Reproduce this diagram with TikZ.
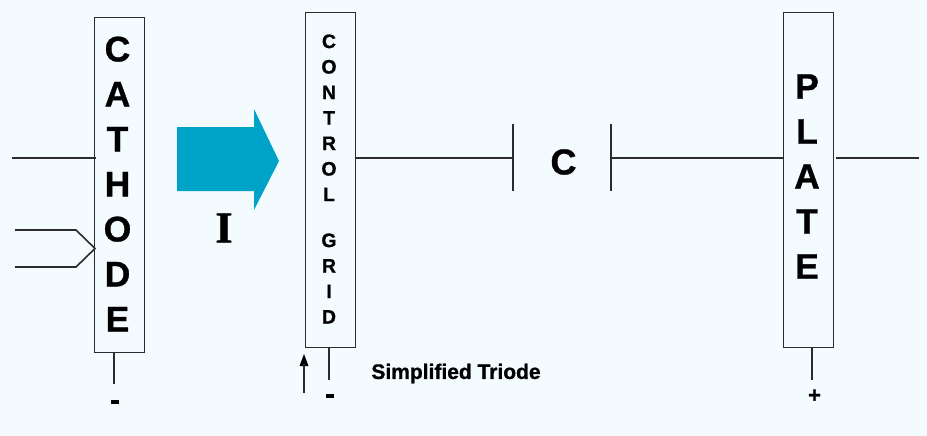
\documentclass[tikz,border=0pt]{standalone}
\usepackage{fontspec}
\setmainfont{Liberation Sans}[BoldFeatures={FakeBold=0.9}]
\newfontfamily\serifbold{Liberation Serif}[BoldFeatures={FakeBold=0.8}]
\definecolor{bgc}{HTML}{F3FBFF}
\definecolor{flow}{HTML}{00A3C8}
\definecolor{ink}{HTML}{2B2B2B}
\tikzset{
  tube/.style={draw=ink,line width=1pt,fill=none,minimum width=50pt,inner sep=0pt,outer sep=0pt},
  wire/.style={draw=ink,line width=1.3pt},
  stackbig/.style={align=center,inner sep=0pt,font=\fontsize{35.5}{45}\selectfont\bfseries},
  stacksmall/.style={align=center,inner sep=0pt,font=\fontsize{19.5}{25.5}\selectfont\bfseries},
  lab/.style={inner sep=0pt,font=\bfseries}
}
\begin{document}
\begin{tikzpicture}[x=1pt,y=-1pt]
\useasboundingbox (0,0) rectangle (927,436);
\fill[bgc] (0,0) rectangle (927,436);
% tubes
\node[tube,minimum height=334pt] (cath) at (119,185) {};
\node[tube,minimum height=334pt] (grid) at (330.5,180) {};
\node[tube,minimum height=334pt] (plate) at (808,180) {};
% stacked names
\node[stackbig] (cathtxt) at (117.5,184) {C\\A\\T\\H\\O\\D\\E};
\node[stacksmall] (gridtxt) at (329,179) {C\\O\\N\\T\\R\\O\\L\\[-5pt] \\G\\R\\I\\D};
\node[stackbig] (platetxt) at (807,176.5) {P\\L\\A\\T\\E};
% current arrow
\fill[flow] (177,127) -- (254,127) -- (254,109) -- (279,161) -- (254,210) -- (254,191) -- (177,191) -- cycle;
\node[inner sep=0pt,font=\fontsize{44}{44}\selectfont\serifbold\bfseries] (cur) at (224,228) {I};
% capacitor
\coordinate (capLt) at (513,124); \coordinate (capLb) at (513,191);
\coordinate (capRt) at (611,124); \coordinate (capRb) at (611,191);
\coordinate (capL) at (513,158); \coordinate (capR) at (611,158);
\draw[wire] (capLt) -- (capLb);
\draw[wire] (capRt) -- (capRb);
\node[lab,font=\fontsize{36}{36}\selectfont\bfseries] (capC) at (563.5,162) {C};
% wires
\coordinate (cathIn) at (12,158);
\coordinate (cathHit) at (96,158);
\draw[wire] (cathIn) -- (cathHit);
\coordinate (h1) at (15,230); \coordinate (h2) at (76,230);
\coordinate (h3) at (95,248.5); \coordinate (h4) at (76,267); \coordinate (h5) at (15,267);
\draw[wire,line width=1.6pt] (h1) -- (h2) -- (h3) -- (h4) -- (h5);
\coordinate (cathB) at (114,352); \coordinate (cathE) at (114,384);
\draw[wire] (cathB) -- (cathE);
\coordinate (gridR) at (355.5,158);
\draw[wire] (gridR) -- (capL);
\coordinate (plateL) at (783,158);
\draw[wire] (capR) -- (plateL);
\coordinate (plateR) at (836,158); \coordinate (plateOut) at (919,158);
\draw[wire] (plateR) -- (plateOut);
\coordinate (gridB) at (329,347); \coordinate (gridE) at (329,380);
\draw[wire] (gridB) -- (gridE);
\coordinate (plateB) at (812,347); \coordinate (plateE) at (812,380);
\draw[wire] (plateB) -- (plateE);
\coordinate (arS) at (304,393); \coordinate (arE) at (304,354);
\fill[black] (arE) -- (299.5,366) -- (308.5,366) -- cycle;
\draw[wire] (arS) -- (304,364);
% labels
\node[lab,font=\fontsize{30}{30}\selectfont\bfseries] (m1) at (115,405) {-};
\node[lab,font=\fontsize{30}{30}\selectfont\bfseries] (m2) at (330,399) {-};
\node[lab,font=\fontsize{22}{22}\selectfont\bfseries] (pl) at (814.5,396) {+};
\node[lab,font=\fontsize{21}{21}\selectfont\bfseries] (title) at (456,373.5) {Simplified Triode};
\end{tikzpicture}
\end{document}
